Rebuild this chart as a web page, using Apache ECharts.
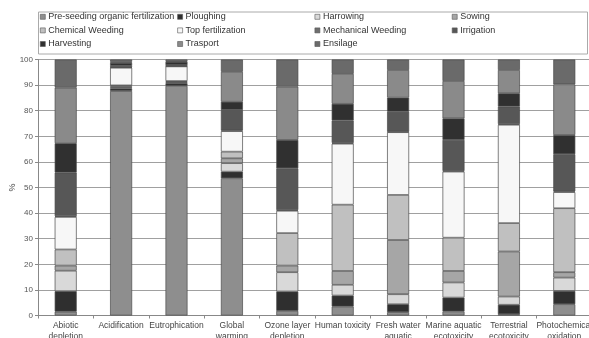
<!DOCTYPE html>
<html>
<head>
<meta charset="utf-8">
<script src="https://cdn.jsdelivr.net/npm/echarts@6/dist/echarts.min.js"></script>
<style>
html,body{margin:0;padding:0;background:#fff;}
#c{width:589px;height:338px;}
</style>
</head>
<body>
<div id="c"></div>
<script>
const categories = ["Abiotic\ndepletion", "Acidification", "Eutrophication", "Global\nwarming", "Ozone layer\ndepletion", "Human toxicity", "Fresh water\naquatic\necotoxicity", "Marine aquatic\necotoxicity", "Terrestrial\necotoxicity", "Photochemical\noxidation"];
const seriesNames = ["Pre-seeding organic fertilization", "Ploughing", "Harrowing", "Sowing", "Chemical Weeding", "Top fertilization", "Mechanical Weeding", "Irrigation", "Harvesting", "Trasport", "Ensilage"];
const preSeeding   = [1.5, 87.7, 89.7, 53.6, 1.8, 3.5, 1.3, 1.6, 0.5, 4.4];
const ploughing    = [8.0, 1.0, 1.0, 2.6, 7.6, 4.3, 3.1, 5.4, 3.7, 5.2];
const harrowing    = [8.0, 0.4, 0.3, 3.3, 7.5, 4.2, 3.9, 5.9, 3.2, 5.2];
const sowing       = [2.0, 0.3, 0.3, 1.9, 2.6, 5.4, 21.2, 4.5, 17.6, 2.1];
const chemWeeding  = [6.3, 0.5, 0.3, 2.6, 12.7, 25.9, 17.6, 13.0, 11.1, 25.0];
const topFert      = [12.7, 6.9, 5.7, 8.0, 8.7, 23.8, 24.5, 25.8, 38.4, 6.3];
const mechWeeding  = [0.3, 0.1, 0.1, 0.3, 0.3, 0.3, 0.2, 0.3, 0.3, 0.3];
const irrigation   = [17.0, 0.6, 0.4, 8.0, 16.3, 8.8, 7.8, 12.1, 6.8, 14.5];
const harvesting   = [11.5, 1.2, 1.3, 3.2, 11.1, 6.5, 5.5, 8.4, 5.2, 7.5];
const trasport     = [21.7, 0.4, 0.3, 11.7, 20.8, 11.7, 10.8, 14.6, 9.1, 19.8];
const ensilage     = [11.0, 0.9, 0.6, 4.8, 10.6, 5.6, 4.1, 8.4, 4.1, 9.7];
const yTicks = [0, 10, 20, 30, 40, 50, 60, 70, 80, 90, 100];

const allData = [preSeeding, ploughing, harrowing, sowing, chemWeeding, topFert, mechWeeding, irrigation, harvesting, trasport, ensilage];
const colors = ["#8e8e8e", "#2f2f2f", "#d9d9d9", "#a6a6a6", "#c0c0c0", "#f7f7f7", "#6e6e6e", "#575757", "#303030", "#8a8a8a", "#6a6a6a"];

const chart = echarts.init(document.getElementById('c'), null, {renderer: 'canvas'});
chart.setOption({
  animation: false,
  backgroundColor: '#fff',
  textStyle: {fontFamily: 'Liberation Sans, Arial, sans-serif'},
  graphic: [{
    type: 'rect', left: 36, top: 9.5,
    shape: {width: 549, height: 42},
    style: {fill: 'none', stroke: '#aaa', lineWidth: 1},
    silent: true, z: -1
  }],
  legend: {
    left: 36, top: 10, width: 570,
    padding: [0, 2, 0, 4],
    itemGap: 0,
    itemWidth: 5, itemHeight: 5,
    icon: 'rect',
    borderWidth: 0,
    itemStyle: {borderColor: '#555', borderWidth: 0.6},
    textStyle: {fontSize: 9, color: '#333', width: 129, lineHeight: 13.6, padding: [0, 0, 0, -2]},
    data: seriesNames
  },
  grid: {left: 38, top: 59.5, width: 554, height: 256, outerBoundsMode: 'none', containLabel: false},
  xAxis: {
    type: 'category',
    data: categories,
    axisLine: {lineStyle: {color: '#888', width: 1}},
    axisTick: {show: true, length: 3, lineStyle: {color: '#888'}},
    axisLabel: {fontSize: 8.5, color: '#444', lineHeight: 11, margin: 5, interval: 0}
  },
  yAxis: {
    type: 'value',
    min: yTicks[0], max: yTicks[yTicks.length - 1], interval: 10,
    name: '%', nameLocation: 'middle', nameGap: 21, nameRotate: 90,
    nameMoveOverlap: false,
    nameTextStyle: {fontSize: 9, color: '#444'},
    axisLine: {show: true, lineStyle: {color: '#888'}},
    axisTick: {show: true, length: 3, lineStyle: {color: '#888'}},
    axisLabel: {fontSize: 8, color: '#555', margin: 5},
    splitLine: {lineStyle: {color: '#a0a0a0', width: 1}}
  },
  series: seriesNames.map((n, i) => ({
    name: n,
    type: 'bar',
    stack: 'all',
    barWidth: 22,
    data: allData[i],
    itemStyle: {color: colors[i], borderColor: '#4a4a4a', borderWidth: 0.7}
  }))
});
</script>
</body>
</html>
